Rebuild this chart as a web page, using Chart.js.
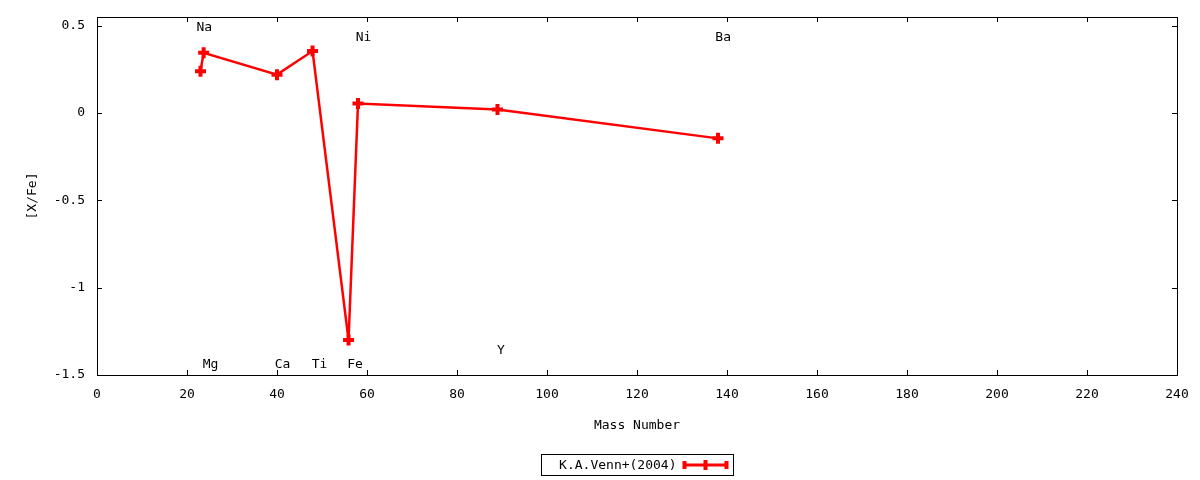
<!DOCTYPE html>
<html>
<head>
<meta charset="utf-8">
<script src="https://cdn.jsdelivr.net/npm/chart.js@4.4.1/dist/chart.umd.min.js"></script>
<style>
  body { margin: 0; background: #fff; }
  #graph { display: block; }
</style>
</head>
<body>
<canvas id="graph" width="1200" height="480"></canvas>
<script>
// measured abundances, K.A.Venn+(2004)
var massNumber = [23, 23.7, 40, 47.9, 55.9, 58, 89, 138];
var abundance = [0.24, 0.345, 0.22, 0.355, -1.3, 0.055, 0.02, -0.145];

// element labels (left edge of text, vertical centre)
var elemNames = ["Na", "Mg", "Ca", "Ti", "Fe", "Ni", "Y", "Ba"];
var elemX = [22.1, 23.5, 39.5, 47.7, 55.6, 57.5, 88.9, 137.4];
var elemY = [0.487, -1.443, -1.443, -1.443, -1.443, 0.43, -1.362, 0.43];

var xTicks = [0, 20, 40, 60, 80, 100, 120, 140, 160, 180, 200, 220, 240];
var yTicks = [-1.5, -1, -0.5, 0, 0.5];

var FONT = "'DejaVu Sans Mono', monospace";

var points = [];
for (var i = 0; i < massNumber.length; i++) {
  points.push({ x: massNumber[i], y: abundance[i] });
}

var gnuplotFrame = {
  id: "gnuplotFrame",
  afterDraw: function (chart) {
    var ctx = chart.ctx;
    var a = chart.chartArea;
    var xs = chart.scales.x;
    var ys = chart.scales.y;
    var tl = 5;

    ctx.save();
    ctx.strokeStyle = "#000";
    ctx.lineWidth = 1;
    ctx.strokeRect(Math.round(a.left) + 0.5, Math.round(a.top) + 0.5,
      Math.round(a.right - a.left), Math.round(a.bottom - a.top));

    ctx.beginPath();
    xs.ticks.forEach(function (t) {
      var px = Math.round(xs.getPixelForValue(t.value)) + 0.5;
      ctx.moveTo(px, a.bottom);
      ctx.lineTo(px, a.bottom - tl);
      ctx.moveTo(px, a.top);
      ctx.lineTo(px, a.top + tl);
    });
    ys.ticks.forEach(function (t) {
      var py = Math.round(ys.getPixelForValue(t.value)) + 0.5;
      ctx.moveTo(a.left, py);
      ctx.lineTo(a.left + tl, py);
      ctx.moveTo(a.right, py);
      ctx.lineTo(a.right - tl, py);
    });
    ctx.stroke();

    // element labels
    ctx.fillStyle = "#000";
    ctx.font = "13px " + FONT;
    ctx.textAlign = "left";
    ctx.textBaseline = "middle";
    for (var i = 0; i < elemNames.length; i++) {
      ctx.fillText(elemNames[i], xs.getPixelForValue(elemX[i]), ys.getPixelForValue(elemY[i]));
    }

    // key box
    var ds = chart.data.datasets[0];
    var cx = (a.left + a.right) / 2;
    var boxW = 192, boxH = 21;
    var bx = Math.round(cx - boxW / 2) + 0.5, by = 454.5;
    ctx.strokeRect(bx, by, boxW, boxH);
    var midY = by + boxH / 2;
    ctx.textAlign = "right";
    ctx.fillText(ds.label, bx + 135, midY + 1);

    var sx0 = bx + 142, sx1 = bx + 186;
    ctx.strokeStyle = ds.borderColor;
    ctx.lineWidth = 3;
    ctx.beginPath();
    ctx.moveTo(sx0, midY);
    ctx.lineTo(sx1, midY);
    ctx.stroke();
    ctx.lineWidth = 4;
    ctx.beginPath();
    ctx.moveTo(sx0 + 1, midY - 4);
    ctx.lineTo(sx0 + 1, midY + 4);
    ctx.moveTo(sx1 - 1, midY - 4);
    ctx.lineTo(sx1 - 1, midY + 4);
    var sm = (sx0 + sx1) / 2;
    ctx.moveTo(sm, midY - 5);
    ctx.lineTo(sm, midY + 5);
    ctx.stroke();
    ctx.restore();
  }
};

var chart = new Chart(document.getElementById("graph").getContext("2d"), {
  type: "scatter",
  data: {
    datasets: [
      {
        label: "K.A.Venn+(2004)",
        data: points,
        showLine: true,
        borderColor: "#ff0000",
        backgroundColor: "#ff0000",
        borderWidth: 2.5,
        pointStyle: "cross",
        pointRadius: 5.5,
        pointBorderWidth: 4,
        pointBorderColor: "#ff0000",
        tension: 0,
      },
    ],
  },
  options: {
    responsive: false,
    animation: false,
    devicePixelRatio: 1,
    layout: { padding: { top: 17, right: 23, left: 0, bottom: 0 } },
    plugins: {
      legend: { display: false },
      tooltip: { enabled: false },
    },
    scales: {
      x: {
        type: "linear",
        position: "bottom",
        min: 0,
        max: 240,
        afterBuildTicks: function (s) {
          s.ticks = xTicks.map(function (v) { return { value: v }; });
        },
        afterFit: function (s) {
          s.height = 105;
          s.paddingLeft = 0;
          s.paddingRight = 0;
        },
        grid: { display: false, drawTicks: false },
        border: { display: false },
        ticks: {
          color: "#000",
          padding: 12,
          maxRotation: 0,
          autoSkip: false,
          font: { family: FONT, size: 13 },
          callback: function (v) { return String(v); },
        },
        title: {
          display: true,
          text: "Mass Number",
          color: "#000",
          font: { family: FONT, size: 13 },
          padding: { top: 0, bottom: 47 },
        },
      },
      y: {
        type: "linear",
        position: "left",
        min: -1.5,
        max: 0.55,
        afterBuildTicks: function (s) {
          s.ticks = yTicks.map(function (v) { return { value: v }; });
        },
        afterFit: function (s) {
          s.width = 97;
          s.paddingTop = 0;
          s.paddingBottom = 0;
        },
        grid: { display: false, drawTicks: false },
        border: { display: false },
        ticks: {
          color: "#000",
          padding: 12,
          autoSkip: false,
          font: { family: FONT, size: 13 },
          callback: function (v) { return String(v); },
        },
        title: {
          display: true,
          text: "[X/Fe]",
          color: "#000",
          font: { family: FONT, size: 13 },
          padding: { top: 25, bottom: 0 },
        },
      },
    },
  },
  plugins: [gnuplotFrame],
});
</script>
</body>
</html>
